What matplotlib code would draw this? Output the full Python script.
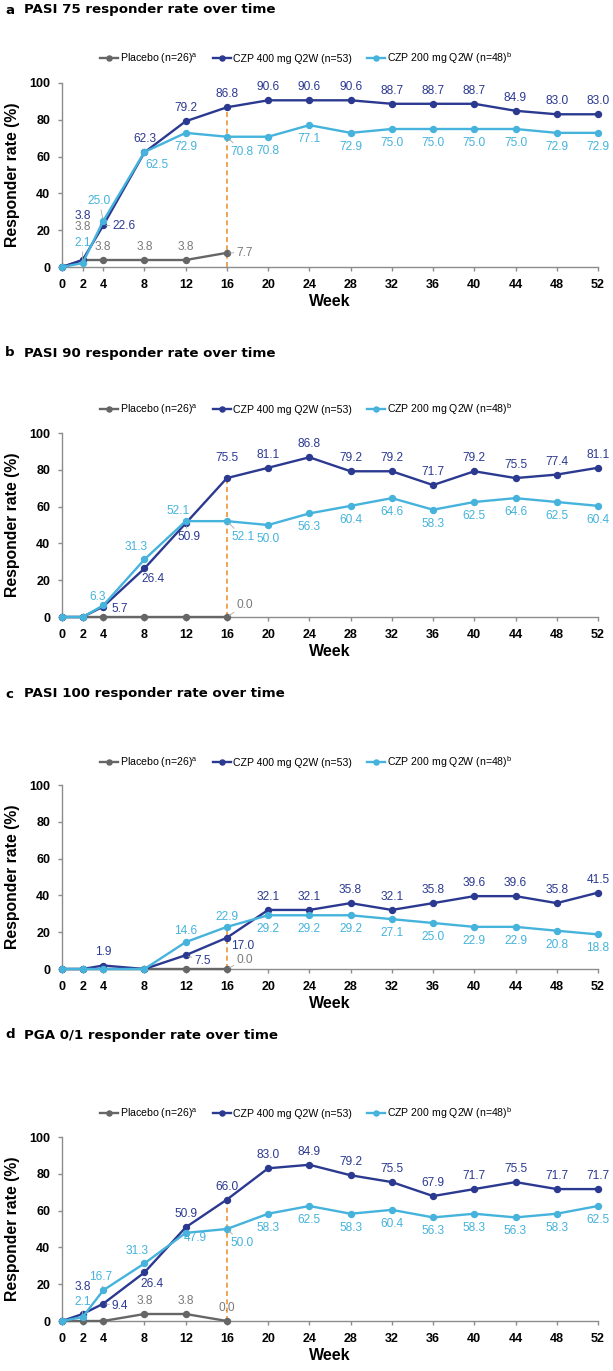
import matplotlib
matplotlib.use('Agg')
import matplotlib.pyplot as plt

plt.rcParams['font.family'] = ['Liberation Sans', 'DejaVu Sans']
plt.rcParams['mathtext.fontset'] = 'custom'
plt.rcParams['mathtext.rm'] = 'Liberation Sans'

# ---------------- data ----------------
weeks = [0, 2, 4, 8, 12, 16, 20, 24, 28, 32, 36, 40, 44, 48, 52]
placebo_weeks = [0, 2, 4, 8, 12, 16]

panel_letters = ['a', 'b', 'c', 'd']
panel_titles = ['PASI 75 responder rate over time',
                'PASI 90 responder rate over time',
                'PASI 100 responder rate over time',
                'PGA 0/1 responder rate over time']

legend_labels = ['Placebo (n=26)$^{\\mathrm{a}}$',
                 'CZP 400 mg Q2W (n=53)',
                 'CZP 200 mg Q2W (n=48)$^{\\mathrm{b}}$']

pasi75_pbo = [0, 3.8, 3.8, 3.8, 3.8, 7.7]
pasi75_400 = [0, 3.8, 22.6, 62.3, 79.2, 86.8, 90.6, 90.6, 90.6, 88.7, 88.7, 88.7, 84.9, 83.0, 83.0]
pasi75_200 = [0, 2.1, 25.0, 62.5, 72.9, 70.8, 70.8, 77.1, 72.9, 75.0, 75.0, 75.0, 75.0, 72.9, 72.9]

pasi90_pbo = [0, 0, 0, 0, 0, 0.0]
pasi90_400 = [0, 0, 5.7, 26.4, 50.9, 75.5, 81.1, 86.8, 79.2, 79.2, 71.7, 79.2, 75.5, 77.4, 81.1]
pasi90_200 = [0, 0, 6.3, 31.3, 52.1, 52.1, 50.0, 56.3, 60.4, 64.6, 58.3, 62.5, 64.6, 62.5, 60.4]

pasi100_pbo = [0, 0, 0, 0, 0, 0.0]
pasi100_400 = [0, 0, 1.9, 0, 7.5, 17.0, 32.1, 32.1, 35.8, 32.1, 35.8, 39.6, 39.6, 35.8, 41.5]
pasi100_200 = [0, 0, 0, 0, 14.6, 22.9, 29.2, 29.2, 29.2, 27.1, 25.0, 22.9, 22.9, 20.8, 18.8]

pga_pbo = [0, 0, 0, 3.8, 3.8, 0.0]
pga_400 = [0, 3.8, 9.4, 26.4, 50.9, 66.0, 83.0, 84.9, 79.2, 75.5, 67.9, 71.7, 75.5, 71.7, 71.7]
pga_200 = [0, 2.1, 16.7, 31.3, 47.9, 50.0, 58.3, 62.5, 58.3, 60.4, 56.3, 58.3, 56.3, 58.3, 62.5]

panels_data = [(pasi75_pbo, pasi75_400, pasi75_200),
               (pasi90_pbo, pasi90_400, pasi90_200),
               (pasi100_pbo, pasi100_400, pasi100_200),
               (pga_pbo, pga_400, pga_200)]

# ---------------- label placement (pixels) ----------------
label_cfg = [
    {'hide': {'pbo': [0], 'c400': [0], 'c200': [0]},
     'off': {('c400', 2): (0, 44, False), ('c400', 4): (21, -1, True),
             ('c200', 2): (0, 20, True), ('c200', 4): (-4, 20, True),
             ('c200', 8): (12, -13, False), ('c200', 16): (15, -15, True),
             ('pbo', 2): (0, 33, False), ('pbo', 16): (18, 0, True)}},
    {'hide': {'pbo': [0, 2, 4, 8, 12], 'c400': [0, 2], 'c200': [0, 2]},
     'off': {('c400', 4): (17, -2, False), ('c400', 8): (9, -11, False),
             ('c400', 12): (3, -14, True), ('c400', 16): (0, 20, False),
             ('c200', 4): (-6, 8, False), ('c200', 8): (-8, 12, False),
             ('c200', 12): (-8, 10, False), ('c200', 16): (16, -16, True),
             ('pbo', 16): (18, 12, True)}},
    {'hide': {'pbo': [0, 2, 4, 8, 12], 'c400': [0, 2, 8], 'c200': [0, 2, 4, 8]},
     'off': {('c400', 4): (0, 14, False), ('c400', 12): (17, -6, True),
             ('c400', 16): (16, -8, False),
             ('c200', 12): (0, 11, False), ('c200', 16): (0, 10, False),
             ('pbo', 16): (18, 9, True)}},
    {'hide': {'pbo': [0, 2, 4], 'c400': [0], 'c200': [0]},
     'off': {('c400', 2): (0, 27, False), ('c400', 4): (17, -2, True),
             ('c400', 8): (8, -12, False),
             ('c200', 2): (0, 15, True), ('c200', 4): (-3, 13, True),
             ('c200', 8): (-7, 12, False), ('c200', 12): (10, -5, False),
             ('c200', 16): (15, -14, True)}},
]
defaults = {'pbo': (0, 13), 'c400': (0, 13), 'c200': (0, -14)}

C_PBO = '#666666'
C_PBO_T = '#7a7a7a'
C_400 = '#2b3990'
C_200 = '#45b3dc'
C_DASH = '#e8973a'
C_AX = '#8c8c8c'

W, H = 613, 1371
fig = plt.figure(figsize=(W / 100, H / 100), dpi=100)

ax_top = [83, 433, 785, 1137]
title_y = [10, 353, 694, 1035]
legend_y = [58, 409, 762, 1113]
ax_h = 184
ax_l, ax_r = 62, 598

for i in range(4):
    top = ax_top[i]
    ax = fig.add_axes([ax_l / W, 1 - (top + ax_h) / H, (ax_r - ax_l) / W, ax_h / H])
    pbo, c400, c200 = panels_data[i]
    cfg = label_cfg[i]

    v16 = max(pbo[5], c400[5], c200[5])
    ax.plot([16, 16], [0, v16], ls=(0, (3, 2)), color=C_DASH, lw=1.2, zorder=2)

    h1, = ax.plot(placebo_weeks, pbo, color=C_PBO, lw=1.7, marker='o', ms=4.3,
                  clip_on=False, zorder=3)
    h2, = ax.plot(weeks, c400, color=C_400, lw=1.7, marker='o', ms=4.3,
                  clip_on=False, zorder=4)
    h3, = ax.plot(weeks, c200, color=C_200, lw=1.7, marker='o', ms=4.3,
                  clip_on=False, zorder=5)

    series = [('pbo', placebo_weeks, pbo, C_PBO_T),
              ('c400', weeks, c400, C_400),
              ('c200', weeks, c200, C_200)]
    for key, xs, ys, col in series:
        for w, v in zip(xs, ys):
            if w in cfg['hide'][key]:
                continue
            dx, dy, lead = cfg['off'].get((key, w), defaults[key] + (False,))
            ap = None
            if lead:
                ap = dict(arrowstyle='-', color='#a8a8a8', lw=0.6, shrinkA=0, shrinkB=2)
            ax.annotate(f'{v:.1f}', xy=(w, v), xytext=(dx, dy),
                        textcoords='offset pixels', ha='center', va='center',
                        fontsize=8.6, color=col, arrowprops=ap,
                        annotation_clip=False, zorder=6)

    ax.set_xlim(0, 52)
    ax.set_ylim(0, 100)
    ax.set_xticks(weeks)
    ax.set_yticks([0, 20, 40, 60, 80, 100])
    for s in ['top', 'right']:
        ax.spines[s].set_visible(False)
    for s in ['left', 'bottom']:
        ax.spines[s].set_color(C_AX)
        ax.spines[s].set_linewidth(1.0)
    ax.tick_params(axis='both', colors=C_AX, length=3, width=1.0, labelcolor='black',
                   labelsize=9, pad=5.5)
    for lab in ax.get_xticklabels() + ax.get_yticklabels():
        lab.set_fontweight('bold')

    ax.set_ylabel('Responder rate (%)', fontsize=11.3, fontweight='bold', va='center')
    ax.yaxis.set_label_coords((13 - ax_l) / (ax_r - ax_l), 0.5)
    ax.set_xlabel('Week', fontsize=11.5, fontweight='bold', va='center')
    ax.xaxis.set_label_coords(0.5, -34 / ax_h)

    fig.legend([h1, h2, h3], legend_labels, loc='center',
               bbox_to_anchor=(306 / W, 1 - legend_y[i] / H), ncol=3, frameon=False,
               fontsize=7.6, handlelength=1.7, handletextpad=0.15, columnspacing=1.5,
               borderpad=0, borderaxespad=0, markerscale=0.85)

    fig.text(5 / W, 1 - title_y[i] / H, panel_letters[i], fontsize=9.6,
             fontweight='bold', family='DejaVu Sans', va='center', ha='left')
    fig.text(24 / W, 1 - title_y[i] / H, panel_titles[i], fontsize=9.6,
             fontweight='bold', family='DejaVu Sans', va='center', ha='left')

fig.savefig('out.png', dpi=100)
